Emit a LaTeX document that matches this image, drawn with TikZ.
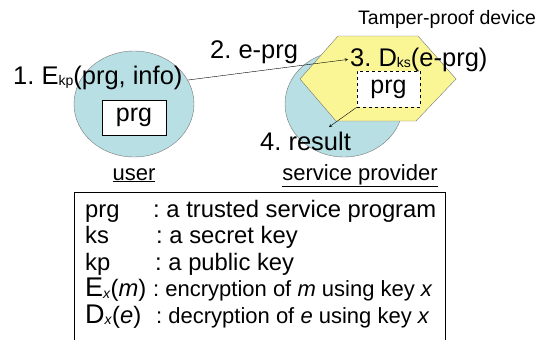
\documentclass[tikz,border=0pt]{standalone}
\usepackage{fontspec}
\setmainfont{Liberation Sans}
\usetikzlibrary{arrows,positioning,shapes}

\definecolor{partyblue}{RGB}{184,223,228}
\definecolor{tamperyellow}{RGB}{250,246,150}
\definecolor{edgegray}{RGB}{120,120,120}

\newcommand{\sbs}[1]{\raisebox{-1.5pt}{\fontsize{14}{14}\selectfont #1}}
\frenchspacing

\begin{document}
\begin{tikzpicture}[x=1pt,y=-1pt,
  party/.style={ellipse, draw=edgegray, fill=partyblue, minimum width=120, minimum height=106},
  progbox/.style={draw, fill=white, minimum width=64, minimum height=35, inner sep=0pt, font=\fontsize{25}{25}\selectfont},
  lbl/.style={inner sep=2pt, anchor=base west, font=\fontsize{25.5}{25.5}\selectfont},
  legendtxt/.style={inner sep=0pt, anchor=base west, font=\fontsize{23.8}{23.8}\selectfont}]
  \clip (0,0) rectangle (552,340);
  \fill[white] (0,0) rectangle (552,340);

  % the two parties
  \node[party] (user) at (134,104) {};
  \node[party, minimum width=118] (sp) at (344,104) {};
  \filldraw[draw=edgegray, fill=tamperyellow] (338,36) -- (418,36) -- (456,79) -- (416,121) -- (336,121) -- (300,79) -- cycle;
  \node[progbox] (prgu) at (134,117.5) {prg};
  \node[progbox, dashed, minimum width=63, minimum height=36] (prgs) at (388.5,89) {prg};

  % protocol steps
  \node[lbl] (enc) at (11,84) {1. E\sbs{kp}(prg, info)};
  \node[lbl] (send) at (208,58) {2. e-prg};
  \node[lbl] (dec) at (348,66) {3. D\sbs{ks}(e-prg)};
  \node[lbl] (result) at (258,150) {4. result};
  \coordinate (resulttip) at (329,127);
  \node[lbl, font=\fontsize{19.5}{19.5}\selectfont] (tamper) at (356,24) {Tamper-proof device};
  \node[inner sep=0pt, anchor=base, font=\fontsize{22}{22}\selectfont] (userlbl) at (134,180) {\underline{user}};
  \node[inner sep=0pt, anchor=base, font=\fontsize{22}{22}\selectfont] (splbl) at (360,180) {\underline{service provider}};

  \draw[->, >=stealth] (user.24) -- (dec.west);
  \draw[->, >=stealth] (prgs.south west) -- (resulttip);

  % legend
  \node[draw, anchor=north west, minimum width=371, minimum height=200] (legend) at (74,192) {};
  \node[legendtxt] (k1) at (85,217) {prg};
  \node[legendtxt] (d1) at (153,217) {: a trusted service program};
  \node[legendtxt] (k2) at (85,243.5) {ks};
  \node[legendtxt] (d2) at (156,243.5) {: a secret key};
  \node[legendtxt] (k3) at (85,270) {kp};
  \node[legendtxt] (d3) at (155,270) {: a public key};
  \node[legendtxt] (k4) at (85,296.5) {{\fontsize{27}{27}\selectfont E}\sbs{\textit{x}}(\textit{m})};
  \node[legendtxt, font=\fontsize{22}{22}\selectfont] (d4) at (153,296.5) {: encryption of \textit{m} using key \textit{x}};
  \node[legendtxt] (k5) at (85,323) {{\fontsize{27}{27}\selectfont D}\sbs{\textit{x}}(\textit{e})};
  \node[legendtxt, font=\fontsize{22}{22}\selectfont] (d5) at (156,323) {: decryption of \textit{e} using key \textit{x}};
\end{tikzpicture}
\end{document}
